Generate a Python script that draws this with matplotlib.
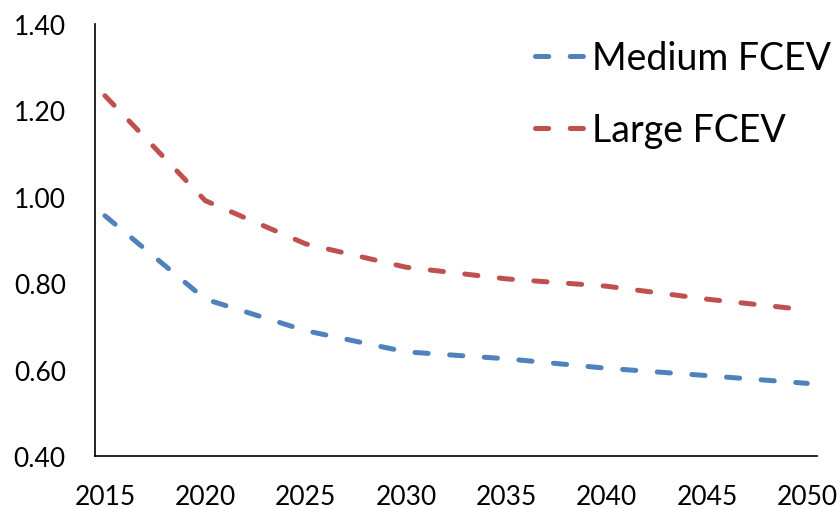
import matplotlib
matplotlib.use("Agg")
import matplotlib.pyplot as plt

# data
years = [2015, 2020, 2025, 2030, 2035, 2040, 2045, 2050]
medium_fcev = [0.956, 0.763, 0.690, 0.641, 0.625, 0.603, 0.586, 0.568]
large_fcev = [1.234, 0.991, 0.891, 0.837, 0.810, 0.793, 0.763, 0.738]
yticks = [0.40, 0.60, 0.80, 1.00, 1.20, 1.40]

plt.rcParams['font.family'] = ['Lato', 'DejaVu Sans']
plt.rcParams['lines.scale_dashes'] = False

fig = plt.figure(figsize=(8.4, 5.1), dpi=100)
ax = fig.add_axes([0.113, 0.104, 0.86, 0.847])

ax.plot(years, medium_fcev, color='#4F81BD', lw=3.6, dashes=(9.5, 15.5),
        dash_capstyle='round', label='Medium FCEV')
ax.plot(years, large_fcev, color='#C0504D', lw=3.6, dashes=(9.5, 15.5),
        dash_capstyle='round', label='Large FCEV')

ax.set_xlim(2014.5, 2050.5)
ax.set_ylim(0.40, 1.40)
ax.set_xticks(years)
ax.set_yticks(yticks)
ax.set_yticklabels(['%.2f' % v for v in yticks])

for side in ['top', 'right']:
    ax.spines[side].set_visible(False)
for side in ['left', 'bottom']:
    ax.spines[side].set_color('black')
    ax.spines[side].set_linewidth(1.2)

ax.tick_params(axis='both', length=0, labelsize=19)
ax.tick_params(axis='y', pad=21)
ax.tick_params(axis='x', pad=20)

fig.legend(loc='upper left', bbox_to_anchor=(0.614, 0.956), frameon=False,
           fontsize=27, borderpad=0, handlelength=1.42, handletextpad=0.12,
           labelspacing=0.96)

fig.savefig('out.png', dpi=100)
